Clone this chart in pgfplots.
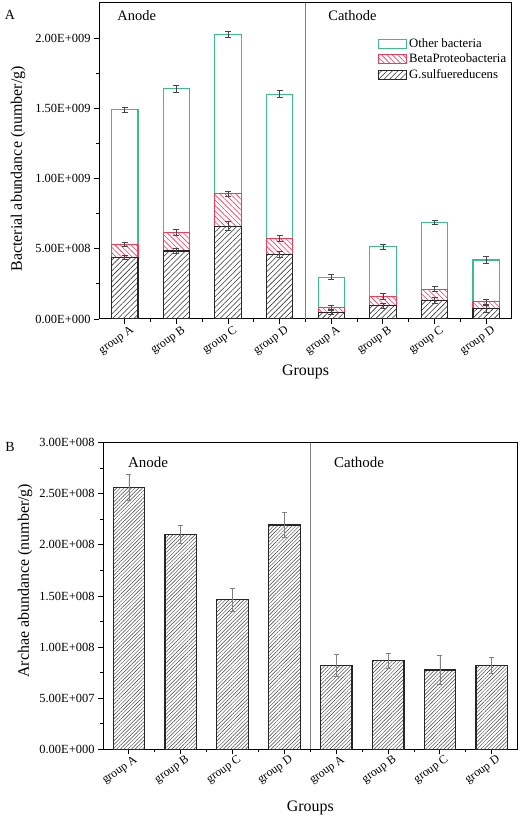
\documentclass[border=0pt]{standalone}
\usepackage{fontspec}
\setmainfont{Liberation Serif}
\usepackage{pgfplots}
\pgfplotsset{compat=1.18}
\usetikzlibrary{patterns.meta}
\definecolor{othc}{RGB}{60,190,140}
\definecolor{betc}{RGB}{250,55,85}
\definecolor{errc}{RGB}{70,70,70}
\pgfplotsset{
  boxlegend/.style={legend image code/.code={\draw[##1] (0bp,-4.5bp) rectangle (28bp,4.5bp);}},
  myaxis/.style={
    scale only axis,
    xmin=-0.5, xmax=7.5,
    xtick={0,...,7},
    xticklabels={group A,group B,group C,group D,group A,group B,group C,group D},
    minor x tick num=1,
    minor y tick num=1,
    tick align=outside,
    tick pos=left,
    major tick length=5bp,
    minor tick length=3bp,
    axis line style={line width=1bp},
    every tick/.style={black, line width=0.9bp},
    scaled y ticks=false,
    xticklabel style={font=\fontsize{12}{12}\selectfont, rotate=35, anchor=north east, inner sep=0.5bp, xshift=4bp, yshift=-3bp},
    yticklabel style={font=\fontsize{12.5}{12.5}\selectfont},
    label style={font=\fontsize{16}{16}\selectfont},
  }
}
\begin{document}
\begin{tikzpicture}
\useasboundingbox (0,0) rectangle (520bp,818bp);
% ---------------- Panel A ----------------
\begin{axis}[myaxis,
  at={(99bp,499bp)}, anchor=south west,
  width=413bp, height=316bp,
  ymin=0, ymax=2.25e9,
  ytick={0,5e8,1e9,1.5e9,2e9},
  yticklabels={0.00E+000,5.00E+008,1.00E+009,1.50E+009,2.00E+009},
  xlabel={Groups},
  ylabel={Bacterial abundance (number/g)},
  xlabel style={at={(axis description cs:0.5,-0.168)}, anchor=center},
  ylabel style={at={(axis description cs:-0.196,0.475)}, anchor=center},
  legend style={at={(0.668,0.9)}, anchor=north west, draw=none, fill=none,
    font=\fontsize{12.8}{14}\selectfont, row sep=1bp},
  legend cell align=left,
]
\addplot[gray, line width=0.7bp, forget plot] coordinates {(3.5,0) (3.5,2.25e9)};
% Other bacteria (total height)
\addplot[ybar, bar width=0.51, bar shift=0pt, draw=othc, line width=1.1bp, fill=white,
  boxlegend,
  error bars/.cd, y dir=both, y explicit,
  error bar style={line width=0.8bp, errc},
  error mark options={line width=0.8bp, errc, mark size=3bp, rotate=90}]
coordinates {
(0,1.489e9) +- (0,2.1e7)
(1,1.638e9) +- (0,2.2e7)
(2,2.027e9) +- (0,2.0e7)
(3,1.600e9) +- (0,2.5e7)
(4,2.97e8) +- (0,1.8e7)
(5,5.14e8) +- (0,1.8e7)
(6,6.88e8) +- (0,1.4e7)
(7,4.20e8) +- (0,2.4e7)
};
\addlegendentry{Other bacteria}
% BetaProteobacteria (cumulative top)
\addplot[ybar, bar width=0.51, bar shift=0pt, draw=betc, line width=1.1bp, fill=white,
  postaction={pattern={Lines[angle=-45,distance=3.8bp,line width=0.6bp]}, pattern color=betc},
  boxlegend,
  error bars/.cd, y dir=both, y explicit,
  error bar style={line width=0.8bp, errc},
  error mark options={line width=0.8bp, errc, mark size=3bp, rotate=90}]
coordinates {
(0,5.31e8) +- (0,1.2e7)
(1,6.17e8) +- (0,2.1e7)
(2,8.91e8) +- (0,2.0e7)
(3,5.74e8) +- (0,2.0e7)
(4,8.0e7) +- (0,1.4e7)
(5,1.59e8) +- (0,2.1e7)
(6,2.13e8) +- (0,2.0e7)
(7,1.23e8) +- (0,1.8e7)
};
\addlegendentry{BetaProteobacteria}
% G.sulfuereducens
\addplot[ybar, bar width=0.51, bar shift=0pt, draw=black!85, line width=1.1bp, fill=white,
  postaction={pattern={Lines[angle=45,distance=3.8bp,line width=0.6bp]}, pattern color=black!80},
  boxlegend,
  error bars/.cd, y dir=both, y explicit,
  error bar style={line width=0.8bp, errc},
  error mark options={line width=0.8bp, errc, mark size=3bp, rotate=90}]
coordinates {
(0,4.39e8) +- (0,1.5e7)
(1,4.84e8) +- (0,1.8e7)
(2,6.61e8) +- (0,3.2e7)
(3,4.60e8) +- (0,2.2e7)
(4,4.8e7) +- (0,1.2e7)
(5,9.5e7) +- (0,1.8e7)
(6,1.33e8) +- (0,1.9e7)
(7,7.3e7) +- (0,2.6e7)
};
\addlegendentry{G.sulfuereducens}
\node[font=\fontsize{14.5}{14.5}\selectfont] at (axis cs:0.23,2.16e9) {Anode};
\node[font=\fontsize{14.5}{14.5}\selectfont] at (axis cs:4.41,2.16e9) {Cathode};
\end{axis}
% ---------------- Panel B ----------------
\begin{axis}[myaxis,
  at={(103bp,68.7bp)}, anchor=south west,
  width=414.7bp, height=306.6bp,
  ymin=0, ymax=3e8,
  ytick={0,5e7,1e8,1.5e8,2e8,2.5e8,3e8},
  yticklabels={0.00E+000,5.00E+007,1.00E+008,1.50E+008,2.00E+008,2.50E+008,3.00E+008},
  xticklabel style={yshift=1bp},
  xlabel={Groups},
  ylabel={Archae abundance (number/g)},
  xlabel style={at={(axis description cs:0.5,-0.1915)}, anchor=center},
  ylabel style={at={(axis description cs:-0.188,0.55)}, anchor=center},
]
\addplot[gray, line width=0.7bp, forget plot] coordinates {(3.5,0) (3.5,3e8)};
\addplot[ybar, bar width=0.61, bar shift=0pt, draw=black!85, line width=1.2bp, fill=white,
  postaction={pattern={Lines[angle=45,distance=2.6bp,line width=0.45bp]}, pattern color=black!75},
  error bars/.cd, y dir=both, y explicit,
  error bar style={line width=0.8bp, gray},
  error mark options={line width=0.8bp, gray, mark size=2.5bp, rotate=90}]
coordinates {
(0,2.564e8) +- (0,1.3e7)
(1,2.104e8) +- (0,8.5e6)
(2,1.464e8) +- (0,1.1e7)
(3,2.195e8) +- (0,1.2e7)
(4,8.22e7) +- (0,1.1e7)
(5,8.67e7) +- (0,7.5e6)
(6,7.76e7) +- (0,1.4e7)
(7,8.22e7) +- (0,7.8e6)
};
\node[font=\fontsize{15}{15}\selectfont] at (axis cs:0.37,2.81e8) {Anode};
\node[font=\fontsize{15}{15}\selectfont] at (axis cs:4.44,2.81e8) {Cathode};
\end{axis}
\node[font=\fontsize{14}{14}\selectfont] at (10bp,803bp) {A};
\node[font=\fontsize{14}{14}\selectfont] at (10bp,371bp) {B};
\end{tikzpicture}
\end{document}
